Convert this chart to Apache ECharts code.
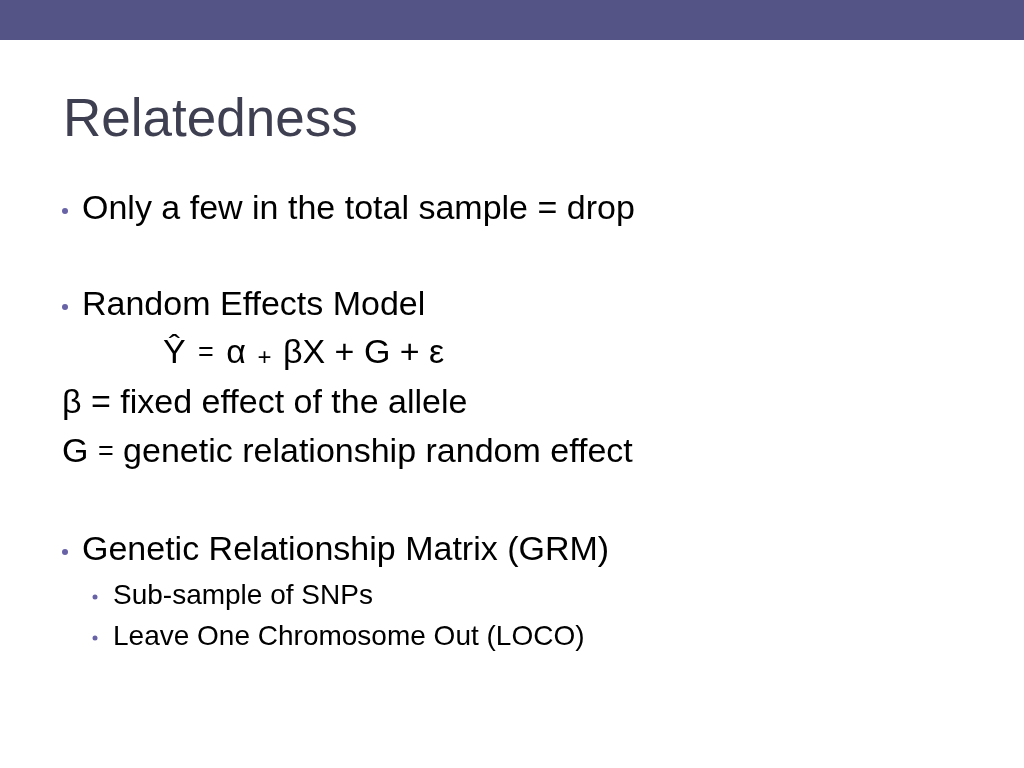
<!DOCTYPE html>
<html>
<head>
<meta charset="utf-8">
<title>Relatedness</title>
<script src="https://cdn.jsdelivr.net/npm/echarts@6/dist/echarts.min.js"></script>
<style>
  html, body { margin: 0; padding: 0; background: #fff; }
  #main { width: 1024px; height: 768px; }
</style>
</head>
<body>
<div id="main"></div>
<script>
// slide content
const title = 'Relatedness';
const bullets = [
  'Only a few in the total sample = drop',
  'Random Effects Model',
  'Genetic Relationship Matrix (GRM)'
];
const subBullets = [
  'Sub-sample of SNPs',
  'Leave One Chromosome Out (LOCO)'
];
const notes = [
  'β = fixed effect of the allele',
  '{t|G }{eq|=}{t| genetic relationship random effect}'
];
const equation = '{t|Ŷ }{eqw|=}{t| α }{pl|+}{t| βX + G + ε}';

const FONT = '"Liberation Sans", Arial, Helvetica, sans-serif';
const chart = echarts.init(document.getElementById('main'));

function line(x, y, text, size, rich) {
  return {
    type: 'text', x: x, y: y,
    style: {
      text: text, fill: '#000', fontFamily: FONT, fontSize: size,
      verticalAlign: 'middle', align: 'left', rich: rich
    }
  };
}
function dot(x, y, r) {
  return { type: 'circle', shape: { cx: x, cy: y, r: r }, style: { fill: '#6763a6' } };
}

const richEq = {
  t: { fontSize: 34, fontFamily: FONT, fill: '#000' },
  eq: { fontSize: 27, fontFamily: FONT, fill: '#000' },
  eqw: { fontSize: 27, fontFamily: FONT, fill: '#000', padding: [0, 3, 0, 3] },
  pl: { fontSize: 24, fontFamily: FONT, fill: '#000', padding: [8, 2, 0, 2] }
};

const els = [
  { type: 'rect', shape: { x: 0, y: 0, width: 1024, height: 40 }, style: { fill: '#545487' } },
  {
    type: 'text', x: 63, y: 121,
    style: { text: title, fill: '#3f3f52', fontFamily: FONT, fontSize: 53, verticalAlign: 'middle' }
  }
];

const mainY = [210, 306, 551];
bullets.forEach(function (b, i) {
  els.push(dot(65, mainY[i] + 1, 3));
  els.push(line(82, mainY[i], b, 34));
});

els.push(line(163, 354, equation, 34, richEq));
els.push(line(62, 404, notes[0], 34));
els.push(line(62, 453, notes[1], 34, richEq));

const subY = [596, 637];
subBullets.forEach(function (s, i) {
  els.push(dot(95, subY[i] + 1, 2.5));
  els.push(line(113, subY[i], s, 28));
});

chart.setOption({
  backgroundColor: '#fff',
  animation: false,
  graphic: { elements: els }
});
</script>
</body>
</html>
